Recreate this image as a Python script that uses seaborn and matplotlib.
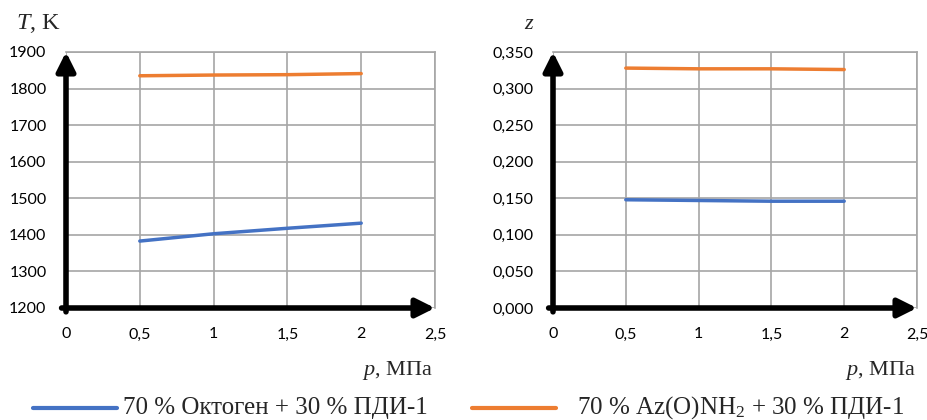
import matplotlib
matplotlib.use("Agg")
import matplotlib.pyplot as plt
import seaborn as sns
import pandas as pd
from matplotlib.lines import Line2D

# ---- data ----
p = [0.5, 1.0, 1.5, 2.0]
T_oktogen = [1383, 1403, 1418, 1432]
T_az = [1835, 1837, 1838, 1841]
z_oktogen = [0.148, 0.147, 0.146, 0.146]
z_az = [0.328, 0.327, 0.327, 0.326]
series_names = ["70 % Октоген + 30 % ПДИ-1", "70 % Az(O)NH$_2$ + 30 % ПДИ-1"]
x_ticks = [0, 0.5, 1, 1.5, 2, 2.5]
x_tick_labels = ["0", "0,5", "1", "1,5", "2", "2,5"]
T_ticks = [1200, 1300, 1400, 1500, 1600, 1700, 1800, 1900]
z_ticks = [0.0, 0.05, 0.10, 0.15, 0.20, 0.25, 0.30, 0.35]

colors = ["#4472C4", "#ED7D31"]

sns.set_style("white")
plt.rcParams["font.family"] = ["Lato", "DejaVu Sans"]
plt.rcParams["mathtext.fontset"] = "custom"
plt.rcParams["mathtext.rm"] = "Liberation Serif"
plt.rcParams["mathtext.it"] = "Liberation Serif:italic"

df_T = pd.DataFrame({"p": p * 2, "v": T_oktogen + T_az,
                     "s": [series_names[0]] * 4 + [series_names[1]] * 4})
df_z = pd.DataFrame({"p": p * 2, "v": z_oktogen + z_az,
                     "s": [series_names[0]] * 4 + [series_names[1]] * 4})

W, H = 928, 420
fig = plt.figure(figsize=(9.28, 4.2), dpi=100)
ax1 = fig.add_axes([66 / W, 1 - 308 / H, (435 - 66) / W, (308 - 52) / H])
ax2 = fig.add_axes([553 / W, 1 - 308 / H, (917 - 553) / W, (308 - 52) / H])

grid_c = "#A6A6A6"

def style(ax, yticks, ylabels, ylim):
    ax.set_xlim(0, 2.5)
    ax.set_ylim(*ylim)
    ax.set_xticks(x_ticks)
    ax.set_xticklabels(x_tick_labels)
    ax.set_yticks(yticks)
    ax.set_yticklabels(ylabels)
    ax.grid(True, color=grid_c, lw=1.2)
    for s in ["top", "right"]:
        ax.spines[s].set_visible(True)
        ax.spines[s].set_color(grid_c)
        ax.spines[s].set_linewidth(1.2)
    for s in ["left", "bottom"]:
        ax.spines[s].set_visible(False)
    ax.tick_params(axis="both", length=0, labelsize=11.5, colors="black")
    ax.tick_params(axis="x", pad=14)
    ax.tick_params(axis="y", pad=14)
    ax.set_xlabel("")
    ax.set_ylabel("")
    # arrows
    ax.annotate("", xy=(0, 1.0), xytext=(0, -0.015), xycoords="axes fraction",
                arrowprops=dict(arrowstyle="-|>", lw=4, color="black",
                                mutation_scale=28, shrinkA=0, shrinkB=0),
                annotation_clip=False)
    ax.annotate("", xy=(1.0, 0), xytext=(-0.012, 0), xycoords="axes fraction",
                arrowprops=dict(arrowstyle="-|>", lw=4, color="black",
                                mutation_scale=28, shrinkA=0, shrinkB=0),
                annotation_clip=False)

sns.lineplot(data=df_T, x="p", y="v", hue="s", palette=colors, ax=ax1,
             legend=False, lw=2.5)
sns.lineplot(data=df_z, x="p", y="v", hue="s", palette=colors, ax=ax2,
             legend=False, lw=2.5)

style(ax1, T_ticks, [str(t) for t in T_ticks], (1200, 1900))
style(ax2, z_ticks, [f"{t:.3f}".replace(".", ",") for t in z_ticks], (0, 0.35))

serif = "Liberation Serif"
fig.text(16 / W, 1 - 29 / H, "$T$, K", fontsize=17.5, family=serif,
         ha="left", va="baseline")
fig.text(524 / W, 1 - 29 / H, "$z$", fontsize=16, family=serif,
         ha="left", va="baseline")
fig.text(433 / W, 1 - 370 / H, "$p$, МПа", fontsize=16, family=serif,
         ha="right", va="center")
fig.text(916 / W, 1 - 370 / H, "$p$, МПа", fontsize=16, family=serif,
         ha="right", va="center")

# legend (manual placement)
ly = 1 - 408 / H
leg = [(33, 117, 123), (472, 556, 577)]
for (x0, x1, tx), c, name in zip(leg, colors, series_names):
    fig.add_artist(Line2D([x0 / W, x1 / W], [ly, ly], color=c, lw=3,
                          transform=fig.transFigure))
    fig.text(tx / W, ly, name, fontsize=18, family=serif, ha="left", va="center")

fig.savefig("out.png", dpi=100)
